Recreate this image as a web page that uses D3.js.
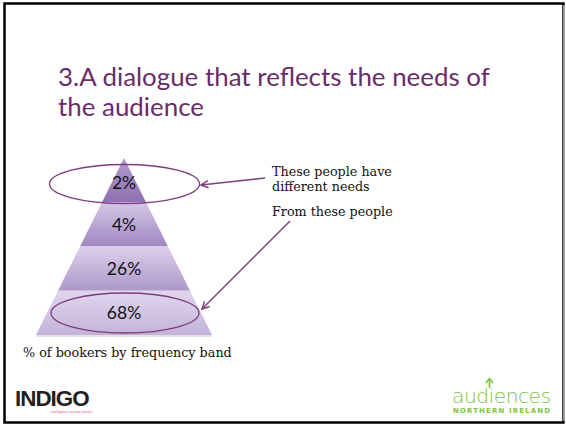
<!DOCTYPE html>
<html>
<head>
<meta charset="utf-8">
<script src="https://cdn.jsdelivr.net/npm/d3@7"></script>
<style>
  html, body { margin: 0; padding: 0; background: #fff; }
  #chart { width: 566px; height: 427px; }
</style>
</head>
<body>
<div id="chart"></div>
<script>
// data
const bands = ["top", "second", "third", "base"];
const shares = [2, 4, 26, 68];
const bandTop = ["#b39dcd", "#d6c8e8", "#dccfeb", "#e0d6ee"];
const bandBottom = ["#8e71b1", "#9f87bf", "#ad98c8", "#c3b3d9"];
const titleLines = ["3.A dialogue that reflects the needs of", "the audience"];
const noteTop = ["These people have", "different needs"];
const noteBottom = "From these people";
const caption = "% of bookers by frequency band";

(() => {
  const width = 566, height = 427;
  const svg = d3.select("#chart").append("svg")
    .attr("width", width).attr("height", height);

  // frame
  svg.append("rect").attr("x", 4.5).attr("y", 3.5).attr("width", 559).attr("height", 419)
    .attr("fill", "none").attr("stroke", "#000").attr("stroke-width", 2.5);
  svg.append("line").attr("x1", 564).attr("x2", 564).attr("y1", 5).attr("y2", 421)
    .attr("stroke", "#c8c8c8").attr("stroke-width", 1.5);

  // fit helper: scale font so text has width w
  const fit = (sel, w) => {
    const len = sel.node().getComputedTextLength();
    const fs = parseFloat(sel.attr("font-size"));
    sel.attr("font-size", fs * w / len);
  };

  // title
  const t1 = svg.append("text").attr("x", 58).attr("y", 86)
    .attr("font-family", "Lato, 'Open Sans', sans-serif").attr("font-size", 28)
    .attr("fill", "#6a2c6b").text(titleLines[0]);
  fit(t1, 432);
  svg.append("text").attr("x", 58).attr("y", 116)
    .attr("font-family", "Lato, 'Open Sans', sans-serif").attr("font-size", t1.attr("font-size"))
    .attr("fill", "#6a2c6b").text(titleLines[1]);

  // pyramid
  const apex = { x: 124, y: 158 };
  const baseY = 335, baseHalf = 88;
  const y = d3.scaleBand().domain(bands).range([apex.y, baseY]).padding(0);
  const half = d3.scaleLinear().domain([apex.y, baseY]).range([0, baseHalf]);

  const defs = svg.append("defs");
  bands.forEach((b, i) => {
    const g = defs.append("linearGradient").attr("id", "g" + i)
      .attr("x1", 0).attr("y1", 0).attr("x2", 0).attr("y2", 1);
    g.append("stop").attr("offset", "0%").attr("stop-color", bandTop[i]);
    g.append("stop").attr("offset", "100%").attr("stop-color", bandBottom[i]);
  });

  // soft shadow under base
  svg.append("rect").attr("x", apex.x - baseHalf).attr("y", baseY)
    .attr("width", baseHalf * 2).attr("height", 2).attr("fill", "#e2e2e2");

  const pyr = svg.append("g");
  bands.forEach((b, i) => {
    const y0 = y(b), y1 = y(b) + y.bandwidth();
    const pts = [
      [apex.x - half(y0), y0], [apex.x + half(y0), y0],
      [apex.x + half(y1), y1], [apex.x - half(y1), y1]
    ];
    pyr.append("path").attr("d", d3.line()(pts) + "Z").attr("fill", `url(#g${i})`);
    pyr.append("text")
      .attr("x", apex.x).attr("y", y0 + y.bandwidth() / 2 + (i === 0 ? 4 : 2))
      .attr("text-anchor", "middle").attr("dominant-baseline", "middle")
      .attr("font-family", "Lato, 'Open Sans', sans-serif").attr("font-size", 17.5)
      .attr("fill", "#111").text(shares[i] + "%");
  });

  // ellipses
  const ell = [{ b: "top", cx: 124.5, cy: 184, rx: 75, ry: 19.5 }, { b: "base", cx: 125, cy: 313, rx: 74, ry: 20 }];
  svg.selectAll("ellipse.hl").data(ell).enter().append("ellipse")
    .attr("cx", d => d.cx).attr("cy", d => d.cy).attr("rx", d => d.rx).attr("ry", d => d.ry)
    .attr("fill", "none").attr("stroke", "#7d3c7e").attr("stroke-width", 1.3);

  // arrows
  defs.append("marker").attr("id", "arr").attr("viewBox", "0 0 10 10")
    .attr("refX", 9).attr("refY", 5).attr("markerWidth", 9).attr("markerHeight", 9)
    .attr("markerUnits", "userSpaceOnUse").attr("orient", "auto")
    .append("path").attr("d", "M1,1 L9,5 L1,9").attr("fill", "none")
    .attr("stroke", "#7d3c7e").attr("stroke-width", 1.6);
  const arrows = [[[265, 178], [201, 185]], [[290, 221], [202, 309]]];
  arrows.forEach(a => {
    svg.append("path").attr("d", d3.line()(a)).attr("stroke", "#7d3c7e")
      .attr("stroke-width", 1.4).attr("fill", "none").attr("marker-end", "url(#arr)");
  });

  // notes
  const serif = "'DejaVu Serif', 'Liberation Serif', serif";
  const n1 = svg.append("text").attr("x", 272).attr("y", 176).attr("font-family", serif)
    .attr("font-size", 12).attr("fill", "#111").text(noteTop[0]);
  fit(n1, 120);
  const nfs = n1.attr("font-size");
  svg.append("text").attr("x", 272).attr("y", 191).attr("font-family", serif)
    .attr("font-size", nfs).attr("fill", "#111").text(noteTop[1]);
  svg.append("text").attr("x", 272).attr("y", 216).attr("font-family", serif)
    .attr("font-size", nfs).attr("fill", "#111").text(noteBottom);

  const cap = svg.append("text").attr("x", 23).attr("y", 357).attr("font-family", serif)
    .attr("font-size", 12).attr("fill", "#111").text(caption);
  fit(cap, 209);

  // logos
  const ind = svg.append("text").attr("x", 15).attr("y", 406)
    .attr("font-family", "'Liberation Sans', Arial, sans-serif").attr("font-weight", "bold")
    .attr("font-size", 20).attr("letter-spacing", -1).attr("fill", "#231f20").text("INDIGO");
  fit(ind, 73);
  svg.append("text").attr("x", 51).attr("y", 413)
    .attr("font-family", "'Liberation Sans', sans-serif").attr("font-size", 3.5)
    .attr("fill", "#e0609a").text("intelligence income impact");

  const green = "#7cc242";
  const aud = svg.append("text").attr("x", 452).attr("y", 403)
    .attr("font-family", "'DejaVu Sans', sans-serif").attr("font-weight", 300)
    .attr("font-size", 22).attr("fill", green).attr("letter-spacing", -0.5).text("audiences");
  fit(aud, 99);
  svg.append("line").attr("x1", 489.5).attr("x2", 489.5).attr("y1", 380).attr("y2", 388)
    .attr("stroke", green).attr("stroke-width", 1.6);
  svg.append("path").attr("d", "M486,383 L489.5,378.5 L493,383").attr("fill", "none")
    .attr("stroke", green).attr("stroke-width", 1.6);
  const ni = svg.append("text").attr("x", 453).attr("y", 413)
    .attr("font-family", "'DejaVu Sans', sans-serif").attr("font-weight", "bold")
    .attr("font-size", 7).attr("letter-spacing", 1.2).attr("fill", green).text("NORTHERN IRELAND");
  fit(ni, 98);
})();
</script>
</body>
</html>
